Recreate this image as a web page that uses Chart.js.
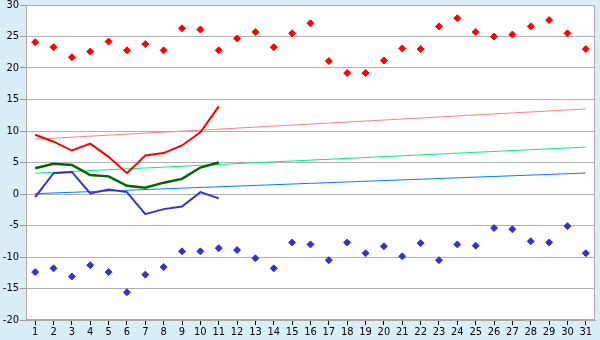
<!DOCTYPE html>
<html>
<head>
<meta charset="utf-8">
<script src="https://cdn.jsdelivr.net/npm/chart.js@4/dist/chart.umd.min.js"></script>
<style>
html,body{margin:0;padding:0;background:#d9eef6;}
#wrap{width:600px;height:340px;position:relative;}
</style>
</head>
<body>
<div id="wrap"><canvas id="c" width="600" height="340"></canvas></div>
<script>
const days = ['1','2','3','4','5','6','7','8','9','10','11','12','13','14','15','16','17','18','19','20','21','22','23','24','25','26','27','28','29','30','31'];
const recordMax = [24.1,23.3,21.7,22.6,24.2,22.8,23.8,22.8,26.3,26.1,22.8,24.7,25.7,23.3,25.5,27.1,21.1,19.2,19.2,21.2,23.1,23.0,26.6,27.9,25.7,25.0,25.3,26.6,27.6,25.5,23.0];
const recordMin = [-12.4,-11.8,-13.1,-11.3,-12.4,-15.6,-12.8,-11.6,-9.1,-9.1,-8.6,-8.9,-10.2,-11.8,-7.7,-8.0,-10.5,-7.7,-9.4,-8.3,-9.9,-7.8,-10.5,-8.0,-8.2,-5.4,-5.6,-7.5,-7.7,-5.1,-9.4];
const dailyMax = [9.4,8.3,6.9,8.0,5.9,3.3,6.1,6.5,7.7,9.8,13.9];
const dailyMean = [4.1,4.8,4.6,3.0,2.8,1.3,1.0,1.8,2.4,4.2,5.0];
const dailyMin = [-0.5,3.3,3.5,0.1,0.7,0.3,-3.2,-2.4,-2.0,0.3,-0.7];
const normalMaxEnds = [8.7,13.5];
const normalMeanEnds = [3.3,7.45];
const normalMinEnds = [0.05,3.33];
const yTicks = [-20,-15,-10,-5,0,5,10,15,20,25,30];

function endsSeries(ends){
  return [{x:days[0], y:ends[0]},{x:days[days.length-1], y:ends[1]}];
}

const bgPlugin = {
  id:'bg',
  beforeDraw(chart){
    const ctx = chart.ctx, a = chart.chartArea;
    ctx.save();
    ctx.fillStyle = '#d9eef6';
    ctx.fillRect(0,0,chart.width,chart.height);
    ctx.fillStyle = '#ffffff';
    ctx.fillRect(a.left,a.top,a.right-a.left,a.bottom-a.top);
    ctx.restore();
  },
  afterDatasetsDraw(chart){
    const ctx = chart.ctx, a = chart.chartArea;
    ctx.save();
    ctx.strokeStyle = '#aaaaaa';
    ctx.lineWidth = 1;
    ctx.strokeRect(a.left+0.5,a.top+0.5,a.right-a.left-1,a.bottom-a.top-1);
    ctx.restore();
  }
};

const font = {family:"'DejaVu Sans Condensed','DejaVu Sans',sans-serif", size:11};

new Chart(document.getElementById('c'), {
  type:'line',
  data:{
    labels:days,
    datasets:[
      {data:endsSeries(normalMaxEnds), borderColor:'#ff8080', borderWidth:1, pointRadius:0, order:5},
      {data:endsSeries(normalMeanEnds), borderColor:'#00f080', borderWidth:1, pointRadius:0, order:5},
      {data:endsSeries(normalMinEnds), borderColor:'#0080ff', borderWidth:1, pointRadius:0, order:5},
      {data:dailyMax, borderColor:'#ff0000', borderWidth:2, pointRadius:0, order:3},
      {data:dailyMean, borderColor:'#006400', borderWidth:2.5, pointRadius:0, order:3},
      {data:dailyMin, borderColor:'#3333cc', borderWidth:2, pointRadius:0, order:3},
      {data:recordMax, showLine:false, pointStyle:'rectRot', pointRadius:3.5, backgroundColor:'#ff0000', borderColor:'#ff0000', borderWidth:1, order:1},
      {data:recordMin, showLine:false, pointStyle:'rectRot', pointRadius:3.5, backgroundColor:'#3333cc', borderColor:'#3333cc', borderWidth:1, order:1}
    ]
  },
  options:{
    responsive:false,
    animation:false,
    events:[],
    layout:{padding:{top:0,right:5,left:0,bottom:0}},
    elements:{line:{tension:0}},
    plugins:{legend:{display:false}, tooltip:{enabled:false}},
    scales:{
      x:{
        type:'category',
        offset:true,
        border:{display:true,color:'#aaaaaa'},
        grid:{offset:false, drawOnChartArea:false, drawTicks:true, tickLength:5, color:'#000000'},
        ticks:{color:'#000000', font:font, maxRotation:0, autoSkip:false, padding:1},
        afterFit(s){ s.height = 20; }
      },
      y:{
        min:-20, max:30,
        border:{display:true,color:'#aaaaaa'},
        grid:{color:'#b0b0b0', tickLength:6, tickColor:'#999999'},
        afterBuildTicks(s){ s.ticks = yTicks.map(v=>({value:v})); },
        ticks:{color:'#000000', font:font, padding:1},
        afterFit(s){ s.width = 26; s.paddingTop = 5; s.paddingBottom = 0; }
      }
    }
  },
  plugins:[bgPlugin]
});
</script>
</body>
</html>
